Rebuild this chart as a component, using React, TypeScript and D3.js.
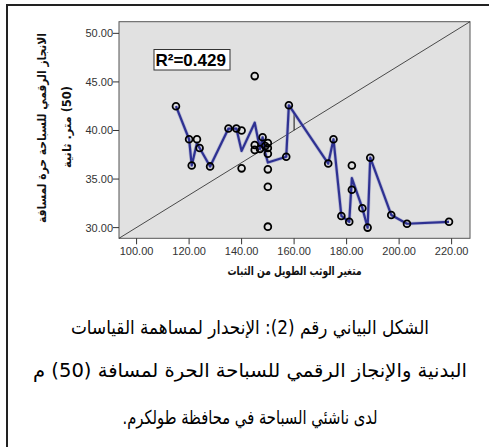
import React from "react";
import * as d3 from "d3";

// scatter points: long jump (x) vs 50m freestyle time (y)
const pointX = [115,120,121,123,124,128,135,138,140,140,145,145,145,147,148,149,150,150,150,150,150,150,157,158,173,175,178,181,182,182,186,188,189,197,203,219];
const pointY = [42.5,39.1,36.4,39.1,38.2,36.3,40.2,40.2,40.0,36.1,45.6,38.5,38.0,38.1,39.3,38.4,38.7,38.2,37.6,36.0,34.2,30.1,37.3,42.6,36.6,39.1,31.2,30.6,36.4,33.9,32.0,30.0,37.2,31.3,30.4,30.6];

// interpolation line vertices
const lineX = [115,120,121,123,124,128,135,138,140,145,147,148,149,150,157,158,173,175,178,181,182,186,188,189,197,203,219];
const lineY = [42.5,39.1,36.4,38.7,38.2,36.3,40.2,40.2,37.9,40.8,38.1,39.3,37.7,36.7,37.3,42.6,36.6,39.1,31.2,30.6,35.1,32.0,30.0,37.2,31.3,30.4,30.6];

const xTicks = [100,120,140,160,180,200,220];
const yTicks = [30,35,40,45,50];
const xDomain = [93.3, 227];
const yDomain = [28.9, 51.2];
const r2Label = "R\u00B2=0.429";
const xTitle = "متغير الوثب الطويل من الثبات";
const yTitle1 = "الانجاز الرقمي للسباحة حرة لمسافة";
const yTitle2 = "(50) متر. ثانية";
const caption = [
  "الشكل البياني رقم (2): الإنحدار لمساهمة القياسات",
  "البدنية والإنجاز الرقمي للسباحة الحرة لمسافة (50) م",
  "لدى ناشئي السباحة في محافظة طولكرم.",
];
const spikeX = 160;

export default function App() {
  const L = 119, R = 470, T = 21.7, B = 238.3;
  const x = d3.scaleLinear().domain(xDomain).range([L, R]);
  const y = d3.scaleLinear().domain(yDomain).range([B, T]);
  const fmt = d3.format(".2f");
  const pts = lineX.map((v, i) => [v, lineY[i]] as [number, number]);
  const line = d3.line<[number, number]>().x(d => x(d[0])).y(d => y(d[1]));
  // spike at x=160 between interpolation line and diagonal
  const interp = d3.scaleLinear().domain(lineX).range(lineY);
  const diagY = d3.scaleLinear().domain(xDomain).range(yDomain);
  const arabic = "'DejaVu Sans', sans-serif";
  const latin = "'Liberation Sans', Arial, sans-serif";
  const capY = [334, 377, 424];
  const capLen = [358, 434, 255];
  return (
    <svg width={489} height={447} style={{ position: "absolute", left: 0, top: 0 }}>
      <rect x={0} y={0} width={489} height={447} fill="#fff" />
      <rect x={7} y={5} width={500} height={460} fill="none" stroke="#222" strokeWidth={2} />
      <rect x={L} y={T} width={R - L} height={B - T} fill="#e1e1e1" stroke="#555" strokeWidth={1} />
      <line x1={x(xDomain[0])} y1={y(yDomain[0])} x2={x(xDomain[1])} y2={y(yDomain[1])} stroke="#222" strokeWidth={0.8} />
      <line x1={x(spikeX)} x2={x(spikeX)} y1={y(interp(spikeX))} y2={y(diagY(spikeX))} stroke="#111" strokeWidth={1} />
      <path d={line(pts) || ""} fill="none" stroke="#8e92c6" strokeWidth={3.6} strokeOpacity={0.5} strokeLinejoin="round" />
      <path d={line(pts) || ""} fill="none" stroke="#2e3192" strokeWidth={2.2} strokeLinejoin="round" />
      {pointX.map((v, i) => (
        <circle key={i} cx={x(v)} cy={y(pointY[i])} r={3.4} fill="none" stroke="#000" strokeWidth={1.8} />
      ))}
      <rect x={154} y={49.5} width={76} height={20.5} fill="#fff" stroke="#333" strokeWidth={1} />
      <text x={155.5} y={66} fontFamily={latin} fontWeight="bold" fontSize={17} fill="#000">{r2Label}</text>
      {yTicks.map(t => (
        <g key={t}>
          <line x1={L - 6} x2={L} y1={y(t)} y2={y(t)} stroke="#333" />
          <text x={L - 6} y={y(t) + 4} textAnchor="end" fontFamily={latin} fontSize={11} fill="#333">{fmt(t)}</text>
        </g>
      ))}
      {xTicks.map(t => (
        <g key={t}>
          <line x1={x(t)} x2={x(t)} y1={B} y2={B + 6} stroke="#333" />
          <text x={x(t)} y={254.5} textAnchor="middle" fontFamily={latin} fontSize={11} fill="#333">{fmt(t)}</text>
        </g>
      ))}
      <text x={(L + R) / 2} y={275} textAnchor="middle" fontFamily={arabic} fontWeight="bold" fontSize={12} fill="#111" textLength={134} lengthAdjust="spacingAndGlyphs" direction="rtl">{xTitle}</text>
      <g transform="translate(46,128) rotate(-90)">
        <text x={0} y={0} textAnchor="middle" fontFamily={arabic} fontWeight="bold" fontSize={12} fill="#111" textLength={190} lengthAdjust="spacingAndGlyphs" direction="rtl">{yTitle1}</text>
      </g>
      <g transform="translate(71,127) rotate(-90)">
        <text x={0} y={0} textAnchor="middle" fontFamily={arabic} fontWeight="bold" fontSize={12} fill="#111" textLength={82} lengthAdjust="spacingAndGlyphs" direction="rtl">{yTitle2}</text>
      </g>
      {caption.map((c, i) => (
        <text key={i} x={250} y={capY[i]} textAnchor="middle" fontFamily={arabic} fontSize={19} fill="#000" textLength={capLen[i]} lengthAdjust="spacingAndGlyphs" direction="rtl">{c}</text>
      ))}
    </svg>
  );
}
